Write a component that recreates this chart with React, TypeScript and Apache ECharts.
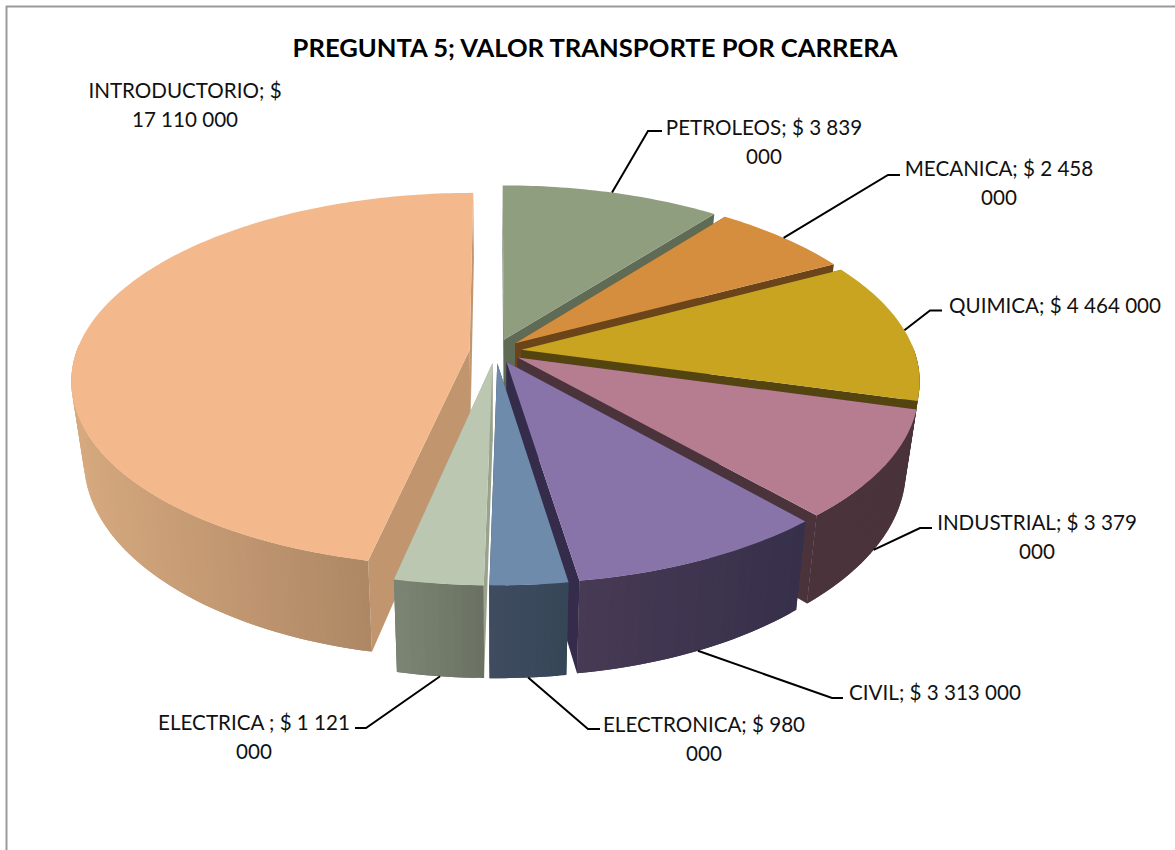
import React, { useEffect, useRef } from "react";
import * as echarts from "echarts";

const categories = ["PETROLEOS", "MECANICA", "QUIMICA", "INDUSTRIAL", "CIVIL", "ELECTRONICA", "ELECTRICA ", "INTRODUCTORIO"];
const values = [3839000, 2458000, 4464000, 3379000, 3313000, 980000, 1121000, 17110000];
const labelLines = [
  ["PETROLEOS; $ 3 839", "000"],
  ["MECANICA; $ 2 458", "000"],
  ["QUIMICA; $ 4 464 000"],
  ["INDUSTRIAL; $ 3 379", "000"],
  ["CIVIL; $ 3 313 000"],
  ["ELECTRONICA; $ 980", "000"],
  ["ELECTRICA ; $ 1 121", "000"],
  ["INTRODUCTORIO; $", "17 110 000"],
];
const titleText = "PREGUNTA 5; VALOR TRANSPORTE POR CARRERA";

const topColors = ["#8E9E7F", "#D48E3E", "#C9A420", "#B67D90", "#8874A8", "#6F8BAC", "#BCC7B1", "#F3B98D"];
const cutColors = ["#5F6B55", "#6B4519", "#544510", "#4A333B", "#352C4B", "#36465A", "#98A38D", "#C1966F"];
const wallColors = [
  ["#5F6B55", "#5F6B55"], ["#6B4519", "#6B4519"], ["#544510", "#544510"], ["#4A333B", "#4A333B"],
  ["#473A55", "#37304A"], ["#3F4C60", "#364657"], ["#7C8573", "#6A7163"], ["#D6A97F", "#9F7B5C"],
];

// layout of the projected pie
const CX = 495.5, CY = 351, R = 393, EXPLODE = 26;
const PERSP = 0.16, TILT = 0.464, HEIGHT = 77, SHRINK = 0.03;
const LABEL_FONT = 20.6, LINE_H = 28.5;
const labelPos: [number, number][] = [[764, 127], [999, 168], [1055, 305], [1037, 522], [935, 692], [704, 724], [254, 722], [185, 90]];
// leader: [wall fraction, elbow x, elbow y, end x]
const leaders: [number, number, number, number][] = [
  [0, 648, 131, 662], [0, 888, 175, 900], [0, 930, 310.5, 942], [1, 920, 528, 932],
  [1, 832, 698, 843], [1, 588, 729, 600], [1, 366, 728, 355], [-1, 0, 0, 0],
];

const rad = (deg: number) => (deg * Math.PI) / 180;
const total = values.reduce((a, b) => a + b, 0);
const starts: number[] = [];
values.reduce((acc, v, i) => { starts[i] = (acc / total) * 360; return acc + v; }, 0);
const ends = values.map((v, i) => starts[i] + (v / total) * 360);

function project(theta: number, radius: number, mid: number, z: number): [number, number] {
  const x = radius * Math.sin(rad(theta)) + EXPLODE * Math.sin(rad(mid));
  const d = radius * Math.cos(rad(theta)) + EXPLODE * Math.cos(rad(mid));
  const s = 1 / (1 + (PERSP * d) / R);
  return [CX + s * x * (1 - SHRINK * z), CY - s * d * TILT + z * HEIGHT * s];
}

const drawOrder = values
  .map((_, i) => i)
  .sort((a, b) => Math.cos(rad((starts[b] + ends[b]) / 2)) - Math.cos(rad((starts[a] + ends[a]) / 2)));

function hexToRgb(h: string) {
  return [1, 3, 5].map((p) => parseInt(h.slice(p, p + 2), 16));
}
function mix(c0: string, c1: string, t: number) {
  const a = hexToRgb(c0), b = hexToRgb(c1);
  return `rgb(${a.map((v, k) => Math.round(v + (b[k] - v) * t)).join(",")})`;
}

function renderSlice(params: any, api: any) {
  const i = api.value(3);
  const a0 = api.value(1), a1 = api.value(2);
  const mid = (a0 + a1) / 2;
  const n = Math.max(2, Math.ceil(a1 - a0));
  const angles: number[] = [];
  const topArc: [number, number][] = [];
  const botArc: [number, number][] = [];
  for (let k = 0; k <= n; k++) {
    const t = a0 + ((a1 - a0) * k) / n;
    angles.push(t);
    topArc.push(project(t, R, mid, 0));
    botArc.push(project(t, R, mid, 1));
  }
  const tipT = project(0, 0, mid, 0), tipB = project(0, 0, mid, 1);
  const xs = topArc.map((p) => p[0]);
  const minX = Math.min(...xs), maxX = Math.max(...xs);
  const face = (pts: [number, number][], fill: any) => ({
    type: "polygon",
    shape: { points: pts },
    style: { fill },
  });

  // Walls are painted in x order, each overlapping its neighbour, so no seams show.
  const wall: any[] = [];
  const segs: number[] = [];
  for (let k = 0; k < n; k++) {
    if (Math.cos(rad((angles[k] + angles[k + 1]) / 2)) < 0.02) segs.push(k);
  }
  segs.forEach((k, idx) => {
    const f = (topArc[k][0] + topArc[k + 1][0]) / 2;
    const c = mix(wallColors[i][0], wallColors[i][1], (f - minX) / Math.max(1, maxX - minX));
    const nextK = segs[idx + 1] === k + 1 && k + 2 <= n ? k + 2 : k + 1;
    wall.push(face([topArc[k], topArc[nextK], botArc[nextK], botArc[k]], c));
  });

  return {
    type: "group",
    children: [
      face([tipT, topArc[0], botArc[0], tipB], cutColors[i]),
      face([tipT, topArc[n], botArc[n], tipB], cutColors[i]),
      ...wall,
      face([tipT, ...topArc], topColors[i]),
    ],
  };
}

function buildGraphic() {
  const lineStyle = { stroke: "#000", lineWidth: 2, fill: "none" };
  const els: any[] = [
    { type: "line", z: 1, shape: { x1: 6.5, y1: 6, x2: 6.5, y2: 850 }, style: { stroke: "#9a9a9a", lineWidth: 2 } },
    { type: "line", z: 1, shape: { x1: 6, y1: 6.5, x2: 1175, y2: 6.5 }, style: { stroke: "#9a9a9a", lineWidth: 2 } },
    {
      type: "text", z: 10, x: 595, y: 47,
      style: { text: titleText, fontFamily: "Lato", fontWeight: "bold", fontSize: 25.6, fill: "#000", textAlign: "center", textVerticalAlign: "middle" },
    },
  ];
  categories.forEach((_, i) => {
    const mid = (starts[i] + ends[i]) / 2;
    const [zf, ex, ey, endX] = leaders[i];
    if (zf >= 0) {
      els.push({
        type: "polyline", z: 10,
        shape: { points: [project(mid, R, mid, zf), [ex, ey], [endX, ey]] },
        style: lineStyle,
      });
    }
    labelLines[i].forEach((line, j) => {
      els.push({
        type: "text", z: 10, x: labelPos[i][0], y: labelPos[i][1] + j * LINE_H,
        style: { text: line, fontFamily: "Lato", fontSize: LABEL_FONT, fill: "#111", textAlign: "center", textVerticalAlign: "middle" },
      });
    });
  });
  return els;
}

export default function App() {
  const ref = useRef<HTMLDivElement>(null);
  useEffect(() => {
    document.body.style.margin = "0";
    const chart = echarts.init(ref.current!, undefined, { renderer: "svg" });
    chart.setOption({
      animation: false,
      backgroundColor: "#fff",
      series: [
        {
          type: "custom",
          coordinateSystem: "none",
          silent: true,
          clip: false,
          renderItem: renderSlice,
          data: drawOrder.map((i) => ({ name: categories[i], value: [values[i], starts[i], ends[i], i] })),
        },
      ],
      graphic: { elements: buildGraphic() },
    });
    return () => chart.dispose();
  }, []);
  return <div ref={ref} style={{ width: 1175, height: 850 }} />;
}
